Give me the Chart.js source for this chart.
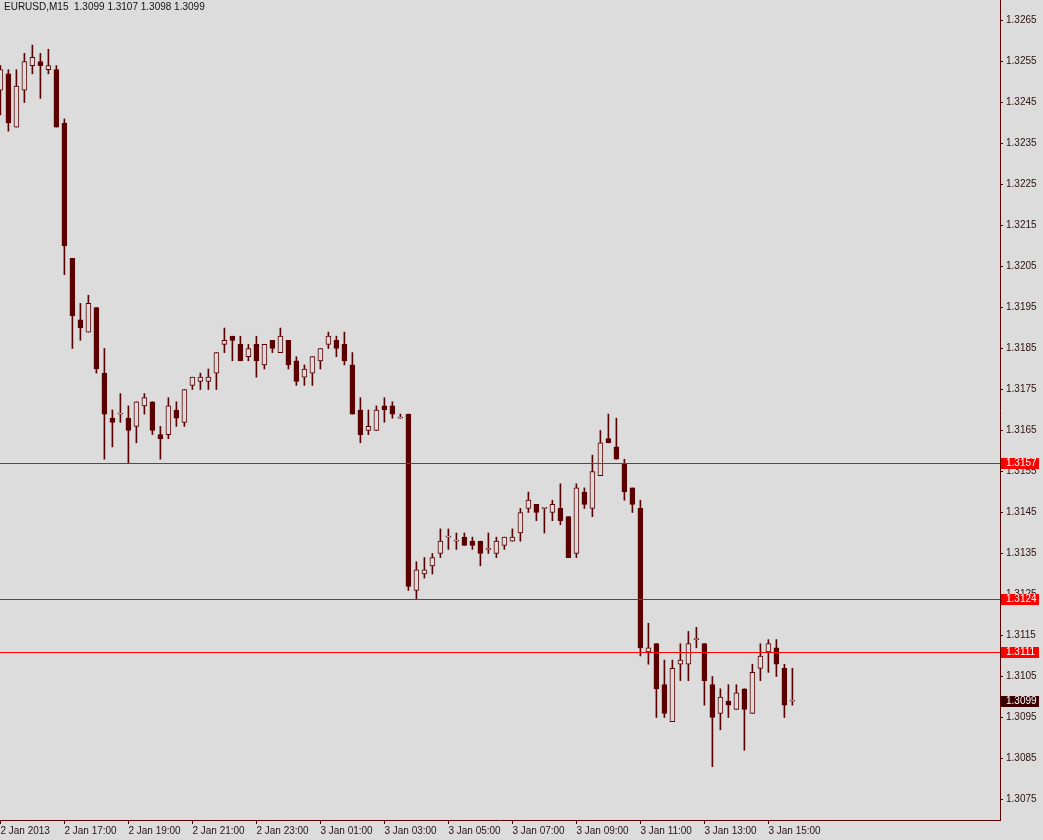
<!DOCTYPE html>
<html>
<head>
<meta charset="utf-8">
<script src="https://cdn.jsdelivr.net/npm/chart.js@4.4.1/dist/chart.umd.min.js"></script>
<style>
  html, body { margin: 0; padding: 0; background: #dcdcdc; }
  #wrap { width: 1043px; height: 840px; }
  canvas { display: block; background: #dcdcdc; }
</style>
</head>
<body>
<div id="wrap"><canvas id="myChart" width="1043" height="840"></canvas></div>
<script>
const SYMBOL = 'EURUSD,M15';

// M15 bars, 2 Jan 2013 15:00 .. 3 Jan 2013 15:45
const OPEN = [
  1.3248, 1.3252, 1.3239, 1.3248, 1.3254, 1.3255, 1.3253, 1.3253, 1.3240, 1.3207,
  1.3192, 1.3189, 1.3195, 1.3179, 1.3168, 1.3169, 1.3168, 1.3166, 1.3171, 1.3172,
  1.3164, 1.3164, 1.3170, 1.3167, 1.3176, 1.3177, 1.3177, 1.3179, 1.3186, 1.3188,
  1.3186, 1.3183, 1.3186, 1.3181, 1.3187, 1.3184, 1.3187, 1.3182, 1.3178, 1.3179,
  1.3182, 1.3186, 1.3187, 1.3186, 1.3181, 1.3170, 1.3165, 1.3165, 1.3171, 1.3171,
  1.3168, 1.3169, 1.3126, 1.3130, 1.3132, 1.3135, 1.3139, 1.3138, 1.3139, 1.3138,
  1.3138, 1.3136, 1.3135, 1.3137, 1.3138, 1.3140, 1.3146, 1.3147, 1.3146, 1.3145,
  1.3146, 1.3144, 1.3135, 1.3150, 1.3146, 1.3154, 1.3163, 1.3161, 1.3157, 1.3151,
  1.3146, 1.3111, 1.3113, 1.3103, 1.3094, 1.3108, 1.3108, 1.3114, 1.3113, 1.3103,
  1.3096, 1.3099, 1.3097, 1.3102, 1.3096, 1.3107, 1.3111, 1.3112, 1.3107, 1.3099
];
const HIGH = [
  1.3254, 1.3253, 1.3253, 1.3257, 1.3259, 1.3257, 1.3258, 1.3254, 1.3241, 1.3207,
  1.3196, 1.3198, 1.3195, 1.3185, 1.3170, 1.3174, 1.3171, 1.3172, 1.3174, 1.3172,
  1.3166, 1.3173, 1.3172, 1.3175, 1.3178, 1.3179, 1.3180, 1.3184, 1.3190, 1.3188,
  1.3188, 1.3186, 1.3188, 1.3186, 1.3187, 1.3190, 1.3187, 1.3183, 1.3181, 1.3183,
  1.3185, 1.3189, 1.3188, 1.3189, 1.3184, 1.3173, 1.3170, 1.3171, 1.3173, 1.3172,
  1.3169, 1.3169, 1.3133, 1.3134, 1.3135, 1.3141, 1.3141, 1.3140, 1.3140, 1.3139,
  1.3138, 1.3140, 1.3139, 1.3139, 1.3141, 1.3146, 1.3150, 1.3147, 1.3146, 1.3148,
  1.3152, 1.3144, 1.3152, 1.3151, 1.3159, 1.3165, 1.3169, 1.3168, 1.3158, 1.3151,
  1.3148, 1.3118, 1.3113, 1.3109, 1.3109, 1.3113, 1.3116, 1.3117, 1.3113, 1.3105,
  1.3102, 1.3103, 1.3103, 1.3102, 1.3108, 1.3113, 1.3114, 1.3114, 1.3108, 1.3107
];
const LOW = [
  1.3242, 1.3238, 1.3239, 1.3245, 1.3252, 1.3246, 1.3252, 1.3239, 1.3203, 1.3185,
  1.3187, 1.3189, 1.3179, 1.3158, 1.3161, 1.3167, 1.3157, 1.3162, 1.3169, 1.3164,
  1.3158, 1.3163, 1.3166, 1.3166, 1.3175, 1.3175, 1.3175, 1.3175, 1.3184, 1.3182,
  1.3182, 1.3182, 1.3178, 1.3180, 1.3184, 1.3184, 1.3180, 1.3176, 1.3176, 1.3176,
  1.3180, 1.3185, 1.3183, 1.3181, 1.3169, 1.3162, 1.3164, 1.3165, 1.3167, 1.3168,
  1.3168, 1.3126, 1.3124, 1.3129, 1.3130, 1.3134, 1.3136, 1.3136, 1.3137, 1.3136,
  1.3132, 1.3135, 1.3134, 1.3136, 1.3138, 1.3138, 1.3145, 1.3143, 1.3140, 1.3143,
  1.3142, 1.3134, 1.3134, 1.3146, 1.3144, 1.3154, 1.3162, 1.3158, 1.3148, 1.3145,
  1.3110, 1.3108, 1.3095, 1.3095, 1.3094, 1.3104, 1.3104, 1.3112, 1.3098, 1.3083,
  1.3092, 1.3095, 1.3097, 1.3087, 1.3096, 1.3104, 1.3106, 1.3105, 1.3095, 1.3098
];
const CLOSE = [
  1.3253, 1.3240, 1.3249, 1.3255, 1.3256, 1.3254, 1.3254, 1.3239, 1.3210, 1.3193,
  1.3190, 1.3196, 1.3180, 1.3169, 1.3167, 1.3169, 1.3165, 1.3172, 1.3173, 1.3165,
  1.3163, 1.3171, 1.3168, 1.3175, 1.3178, 1.3178, 1.3178, 1.3184, 1.3187, 1.3187,
  1.3182, 1.3185, 1.3182, 1.3186, 1.3185, 1.3188, 1.3181, 1.3177, 1.3180, 1.3183,
  1.3185, 1.3188, 1.3185, 1.3182, 1.3169, 1.3164, 1.3166, 1.3170, 1.3170, 1.3169,
  1.3168, 1.3127, 1.3131, 1.3131, 1.3134, 1.3138, 1.3139, 1.3138, 1.3137, 1.3137,
  1.3135, 1.3136, 1.3138, 1.3139, 1.3139, 1.3145, 1.3148, 1.3145, 1.3146, 1.3147,
  1.3143, 1.3134, 1.3151, 1.3147, 1.3155, 1.3162, 1.3162, 1.3158, 1.3150, 1.3147,
  1.3112, 1.3112, 1.3102, 1.3096, 1.3107, 1.3109, 1.3113, 1.3114, 1.3104, 1.3095,
  1.3100, 1.3098, 1.3101, 1.3097, 1.3106, 1.3110, 1.3113, 1.3108, 1.3098, 1.3099
];

// time axis labels, one every 8 bars (2 hours)
const X_TICK_BARS = [0, 8, 16, 24, 32, 40, 48, 56, 64, 72, 80, 88, 96];
const X_TICK_LABELS = [
  '2 Jan 2013', '2 Jan 17:00', '2 Jan 19:00', '2 Jan 21:00', '2 Jan 23:00',
  '3 Jan 01:00', '3 Jan 03:00', '3 Jan 05:00', '3 Jan 07:00', '3 Jan 09:00',
  '3 Jan 11:00', '3 Jan 13:00', '3 Jan 15:00'
];
const Y_TICK_LABELS = [
  '1.3075', '1.3085', '1.3095', '1.3105', '1.3115', '1.3125', '1.3135', '1.3145',
  '1.3155', '1.3165', '1.3175', '1.3185', '1.3195', '1.3205', '1.3215', '1.3225',
  '1.3235', '1.3245', '1.3255', '1.3265'
];
// horizontal lines drawn on the chart
const LEVELS = [1.3157, 1.3124, 1.3111];

const BG = '#dcdcdc';
const CANDLE = '#5a0000';
const LEVEL_COLOR = '#ff0000';
const TEXT = '#2a1010';
const FONT = '10px "Liberation Sans", Arial, sans-serif';

makeChart();

function noPadding(scale) {
  scale.paddingLeft = 0;
  scale.paddingRight = 0;
  scale.paddingTop = 0;
  scale.paddingBottom = 0;
}

function makeChart() {
  const n = OPEN.length;
  const bodies = [];
  const wicks = [];
  const bodyFill = [];
  for (let i = 0; i < n; i++) {
    bodies.push({x: i, y: [OPEN[i], CLOSE[i]]});
    wicks.push({x: i, y: [LOW[i], HIGH[i]]});
    bodyFill.push(CLOSE[i] < OPEN[i] ? CANDLE : BG);
  }
  const last = n - 1;
  const header = SYMBOL + '  ' + [OPEN[last], HIGH[last], LOW[last], CLOSE[last]].map(v => v.toFixed(4)).join(' ');

  // price lines, their tags on the right scale and the header text
  const overlay = {
    id: 'overlay',
    afterDraw(chart) {
      const ctx = chart.ctx;
      const area = chart.chartArea;
      const y = chart.scales.y;
      ctx.save();
      ctx.font = FONT;
      ctx.textBaseline = 'middle';

      LEVELS.forEach(v => {
        const py = Math.round(y.getPixelForValue(v)) + 0.5;
        ctx.strokeStyle = LEVEL_COLOR;
        ctx.lineWidth = 1;
        ctx.beginPath();
        ctx.moveTo(area.left, py);
        ctx.lineTo(area.right, py);
        ctx.stroke();
      });

      const tags = LEVELS.map(v => [v, LEVEL_COLOR]).concat([[CLOSE[last], '#3a0000']]);
      tags.forEach(t => {
        const py = Math.round(y.getPixelForValue(t[0]));
        ctx.fillStyle = t[1];
        ctx.fillRect(area.right + 1, py - 5, 38, 11);
        ctx.fillStyle = '#ffffff';
        ctx.textAlign = 'left';
        ctx.fillText(t[0].toFixed(4), area.right + 6, py + 0.5);
      });

      ctx.fillStyle = '#111111';
      ctx.textAlign = 'left';
      ctx.fillText(header, 4, 7);
      ctx.restore();
    }
  };

  const config = {
    type: 'bar',
    data: {
      datasets: [{
        label: 'body',
        data: bodies,
        order: 0,
        barThickness: 5,
        minBarLength: 1,
        backgroundColor: bodyFill,
        borderColor: CANDLE,
        borderWidth: 1,
        borderSkipped: false,
        grouped: false,
      }, {
        label: 'wick',
        data: wicks,
        order: 1,
        barThickness: 1,
        backgroundColor: CANDLE,
        borderWidth: 0,
        grouped: false,
      }]
    },
    options: {
      responsive: false,
      animation: false,
      layout: {padding: 0},
      plugins: {
        legend: {display: false},
        tooltip: {enabled: false},
        title: {display: false}
      },
      scales: {
        x: {
          type: 'linear',
          position: 'bottom',
          offset: false,
          min: -0.05,
          max: 124.95,
          afterBuildTicks: (scale) => {
            scale.ticks = X_TICK_BARS.map(v => ({value: v}));
          },
          afterFit: (scale) => {
            scale.height = 20;
            noPadding(scale);
          },
          grid: {
            offset: false,
            drawOnChartArea: false,
            drawTicks: true,
            tickLength: 4,
            color: CANDLE
          },
          border: {display: true, color: CANDLE, width: 1},
          ticks: {
            autoSkip: false,
            maxRotation: 0,
            align: 'start',
            padding: 1,
            color: TEXT,
            font: {family: '"Liberation Sans", Arial, sans-serif', size: 10},
            callback: (value) => X_TICK_LABELS[X_TICK_BARS.indexOf(value)]
          }
        },
        y: {
          type: 'linear',
          position: 'right',
          min: 1.3070,
          max: 1.3270,
          bounds: 'data',
          afterBuildTicks: (scale) => {
            scale.ticks = Y_TICK_LABELS.map(s => ({value: parseFloat(s)}));
          },
          afterFit: (scale) => {
            scale.width = 43;
            noPadding(scale);
          },
          grid: {
            drawOnChartArea: false,
            drawTicks: true,
            tickLength: 3,
            color: CANDLE
          },
          border: {display: true, color: CANDLE, width: 1},
          ticks: {
            autoSkip: false,
            padding: 3,
            color: TEXT,
            font: {family: '"Liberation Sans", Arial, sans-serif', size: 10},
            callback: (value) => Y_TICK_LABELS.find(s => parseFloat(s) === value)
          }
        }
      }
    },
    plugins: [overlay]
  };

  const myChart = new Chart(document.getElementById('myChart'), config);
}
</script>
</body>
</html>
